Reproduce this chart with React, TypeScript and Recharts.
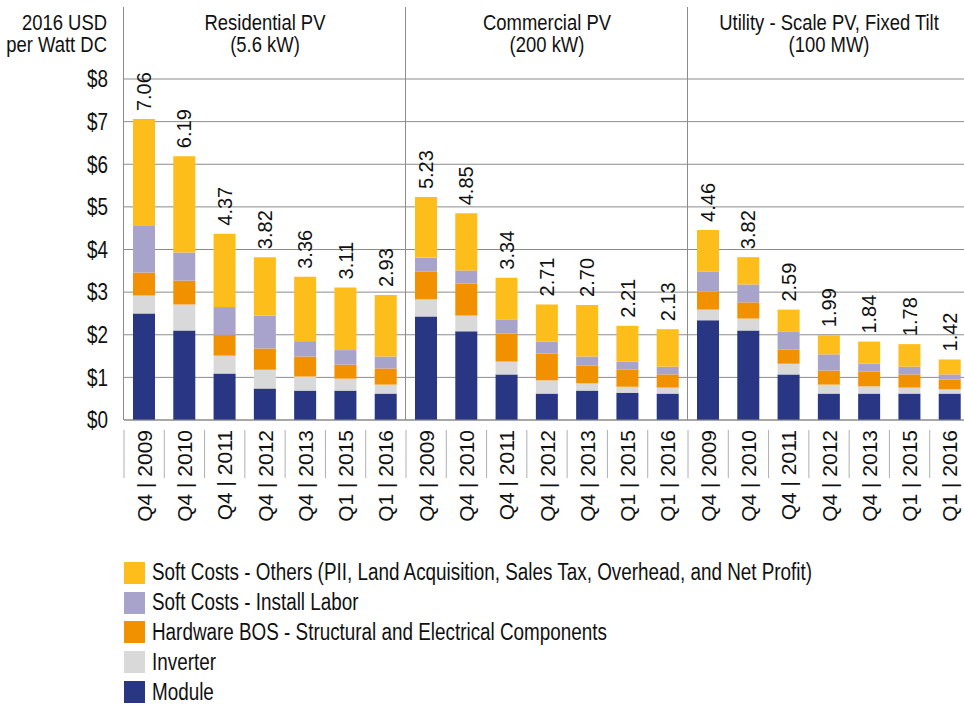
import React from 'react';
import { BarChart, Bar, XAxis, YAxis, CartesianGrid, LabelList, Customized } from 'recharts';

// quarter labels, repeated for each of the three system types
const quarters = ['Q4 | 2009', 'Q4 | 2010', 'Q4 | 2011', 'Q4 | 2012', 'Q4 | 2013', 'Q1 | 2015', 'Q1 | 2016'];
const groupNames = ['Residential PV', 'Commercial PV', 'Utility - Scale PV, Fixed Tilt'];
const groupSizes = ['(5.6 kW)', '(200 kW)', '(100 MW)'];

const module = [2.5, 2.1, 1.09, 0.74, 0.69, 0.69, 0.62, 2.43, 2.08, 1.07, 0.62, 0.69, 0.64, 0.62, 2.34, 2.1, 1.07, 0.62, 0.62, 0.62, 0.62];
const inverter = [0.42, 0.61, 0.42, 0.44, 0.33, 0.28, 0.21, 0.4, 0.37, 0.3, 0.31, 0.17, 0.14, 0.14, 0.25, 0.28, 0.25, 0.21, 0.17, 0.14, 0.1];
const hardwareBos = [0.54, 0.56, 0.49, 0.5, 0.47, 0.33, 0.38, 0.65, 0.75, 0.66, 0.63, 0.42, 0.4, 0.31, 0.42, 0.38, 0.33, 0.33, 0.35, 0.31, 0.23];
const installLabor = [1.11, 0.66, 0.65, 0.77, 0.36, 0.34, 0.28, 0.33, 0.31, 0.33, 0.28, 0.21, 0.19, 0.18, 0.47, 0.42, 0.43, 0.38, 0.18, 0.18, 0.12];
const softOthers = [2.49, 2.26, 1.72, 1.37, 1.51, 1.47, 1.44, 1.42, 1.34, 0.98, 0.87, 1.21, 0.84, 0.88, 0.98, 0.64, 0.51, 0.45, 0.52, 0.53, 0.35];
const totals = [7.06, 6.19, 4.37, 3.82, 3.36, 3.11, 2.93, 5.23, 4.85, 3.34, 2.71, 2.7, 2.21, 2.13, 4.46, 3.82, 2.59, 1.99, 1.84, 1.78, 1.42];

const yTicks = [0, 1, 2, 3, 4, 5, 6, 7, 8];

const series = [
    { key: 'module', name: 'Module', color: '#283683' },
    { key: 'inverter', name: 'Inverter', color: '#D9D9D9' },
    { key: 'bos', name: 'Hardware BOS - Structural and Electrical Components', color: '#F29100' },
    { key: 'labor', name: 'Soft Costs - Install Labor', color: '#A8A3CB' },
    { key: 'others', name: 'Soft Costs - Others (PII, Land Acquisition, Sales Tax, Overhead, and Net Profit)', color: '#FDBD1B' },
];

const data = totals.map((t, i) => ({
    key: `g${Math.floor(i / 7)}-${i % 7}`,
    label: quarters[i % 7],
    module: module[i],
    inverter: inverter[i],
    bos: hardwareBos[i],
    labor: installLabor[i],
    others: softOthers[i],
    total: t,
}));

const REG = "'Liberation Sans', Arial, sans-serif";
const SQUEEZE = 0.82; // no condensed font installed, so squeeze Liberation Sans

const W = 980;
const H = 705;
const LEFT = 124;
const RIGHT = 10;
const TOP = 79;
const PLOT_BOTTOM = 420;
const CAT_W = (W - LEFT - RIGHT) / data.length;

const NarrowText = ({ x, y, anchor = 'start', size = 22, dy, children }: any) => (
    <text
        transform={`translate(${x},${y}) scale(${SQUEEZE},1)`}
        textAnchor={anchor}
        dy={dy}
        fontFamily={REG}
        fontSize={size}
        fill="#111"
    >
        {children}
    </text>
);

const XTick = ({ x, y, payload }: any) => {
    const row = data.find(d => d.key === payload.value);
    return (
        <g>
            <line x1={x - CAT_W / 2} x2={x - CAT_W / 2} y1={y + 10} y2={y + 58} stroke="#b0b0b0" />
            <text
                transform={`translate(${x},${y + 10}) rotate(-90)`}
                textAnchor="end"
                dy="0.36em"
                fontFamily={REG}
                fontSize={21}
                fill="#111"
            >
                {row ? row.label : ''}
            </text>
        </g>
    );
};

const YTick = ({ x, y, payload }: any) => (
    <NarrowText x={x} y={y} anchor="end" size={23} dy="0.36em">{`$${payload.value}`}</NarrowText>
);

const renderTotal = (props: any) => {
    const { x, y, width, value } = props;
    return (
        <text
            transform={`translate(${x + width / 2},${y - 8}) rotate(-90)`}
            textAnchor="start"
            dy="0.36em"
            fontFamily={REG}
            fontSize={20}
            fill="#111"
        >
            {Number(value).toFixed(2)}
        </text>
    );
};

// group headers, separators and y-axis title
const Frame = () => (
    <g>
        {[0, 7, 14].map(i => (
            <line key={i} x1={LEFT + i * CAT_W - 0.5} x2={LEFT + i * CAT_W - 0.5} y1={7} y2={PLOT_BOTTOM} stroke="#8c8c8c" />
        ))}
        {groupNames.map((g, i) => (
            <g key={g}>
                <NarrowText x={LEFT + (i * 7 + 3.5) * CAT_W} y={29.5} anchor="middle" size={22.5}>{g}</NarrowText>
                <NarrowText x={LEFT + (i * 7 + 3.5) * CAT_W} y={52} anchor="middle" size={22.5}>{groupSizes[i]}</NarrowText>
            </g>
        ))}
        <NarrowText x={107} y={29.5} anchor="end" size={22.5}>2016 USD</NarrowText>
        <NarrowText x={107} y={52} anchor="end" size={22.5}>per Watt DC</NarrowText>
    </g>
);

export default function App() {
    return (
        <div style={{ position: 'absolute', left: 0, top: 0, width: 964, height: 705, overflow: 'hidden', background: '#fff' }}>
            <BarChart
                width={W}
                height={H}
                data={data}
                margin={{ top: TOP, right: RIGHT, bottom: H - PLOT_BOTTOM - 130, left: 0 }}
                barSize={22}
            >
                <CartesianGrid vertical={false} stroke="#8c8c8c" />
                <XAxis
                    dataKey="key"
                    interval={0}
                    height={130}
                    tickSize={0}
                    tickMargin={0}
                    tickLine={false}
                    axisLine={{ stroke: '#8c8c8c' }}
                    tick={<XTick />}
                />
                <YAxis
                    width={LEFT}
                    domain={[0, 8]}
                    ticks={yTicks}
                    tickSize={0}
                    tickMargin={16}
                    tickLine={false}
                    axisLine={false}
                    tick={<YTick />}
                />
                {series.map((s, i) => (
                    <Bar key={s.key} dataKey={s.key} stackId="a" fill={s.color} isAnimationActive={false}>
                        {i === series.length - 1 && <LabelList dataKey="total" content={renderTotal} />}
                    </Bar>
                ))}
                <Customized component={<Frame />} />
            </BarChart>
            <div style={{ position: 'absolute', left: 124, top: 558, fontFamily: REG, fontSize: 23, color: '#111' }}>
                {[...series].reverse().map(s => (
                    <div key={s.key} style={{ display: 'flex', alignItems: 'center', height: 29.8, whiteSpace: 'nowrap' }}>
                        <span style={{ display: 'inline-block', width: 21, height: 22, background: s.color, marginRight: 7, flex: 'none' }} />
                        <span style={{ display: 'inline-block', transform: `scaleX(${SQUEEZE})`, transformOrigin: 'left center' }}>{s.name}</span>
                    </div>
                ))}
            </div>
        </div>
    );
}
